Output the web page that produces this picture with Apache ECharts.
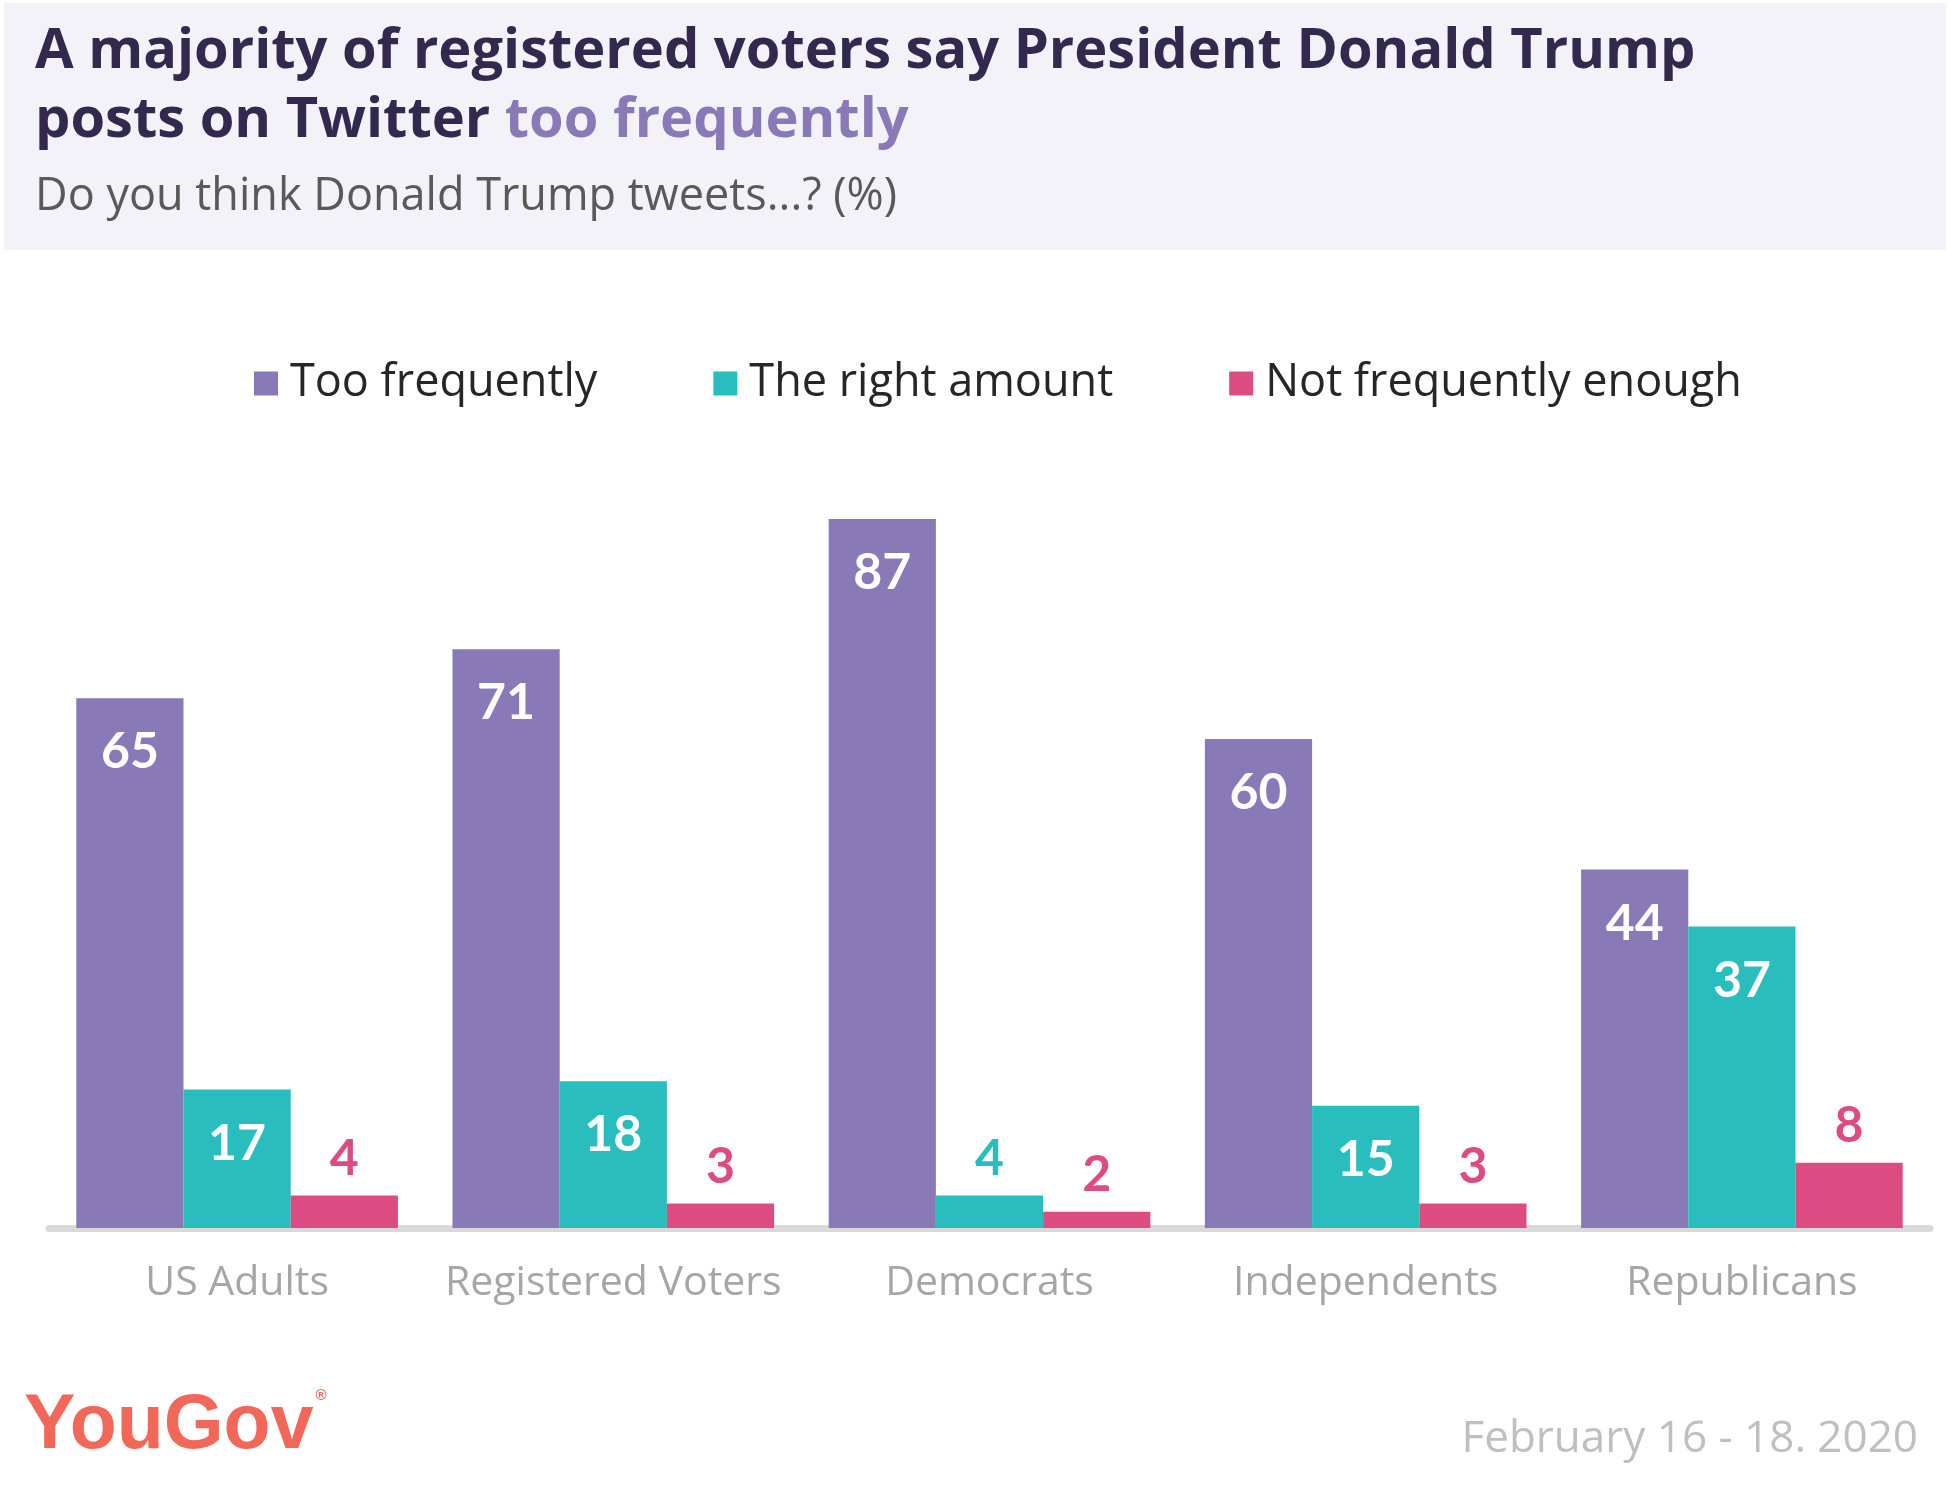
<!DOCTYPE html>
<html lang="en">
<head>
    <meta charset="UTF-8">
    <title>Trump tweets</title>
    <script src="https://cdn.jsdelivr.net/npm/echarts@6/dist/echarts.min.js"></script>
    <style>
        html, body { margin: 0; padding: 0; background: #ffffff; }
        #main { width: 1950px; height: 1485px; }
    </style>
</head>
<body>
<div id="main"></div>

<script type="text/javascript">
    // data
    var groups = ['US Adults', 'Registered Voters', 'Democrats', 'Independents', 'Republicans'];
    var seriesNames = ['Too frequently', 'The right amount', 'Not frequently enough'];
    var tooFrequently = [65, 71, 87, 60, 44];
    var rightAmount = [17, 18, 4, 15, 37];
    var notEnough = [4, 3, 2, 3, 8];

    var colors = ['#8979b6', '#29bebd', '#dc4c82'];
    var font = '"Open Sans", Lato, sans-serif';
    var numFont = 'Lato, "Open Sans", sans-serif';

    // big values sit inside the bar in white, small ones above it in the bar colour
    function barData(values, color) {
        return values.map(function (v) {
            if (v >= 10) return { value: v };
            return {
                value: v,
                label: { position: 'top', distance: 12, color: color }
            };
        });
    }

    function makeSeries(name, values, i) {
        return {
            name: name,
            type: 'bar',
            barGap: 0,
            barCategoryGap: '14.5%',
            itemStyle: { color: colors[i] },
            label: {
                show: true,
                position: 'insideTop',
                distance: 29,
                color: '#ffffff',
                fontFamily: numFont,
                fontWeight: 'bold',
                fontSize: 50
            },
            data: barData(values, colors[i])
        };
    }

    var myChart = echarts.init(document.getElementById('main'));

    myChart.setOption({
        backgroundColor: '#ffffff',
        animation: false,
        graphic: [{
            type: 'rect',
            z: -10,
            shape: { x: 4, y: 3, width: 1942, height: 247 },
            style: { fill: '#f3f2f8' }
        }],
        title: [{
            left: 35,
            top: 18,
            padding: 0,
            text: '{a|A majority of registered voters say President Donald Trump}\n{a|posts on Twitter }{b|too frequently}',
            textStyle: {
                rich: {
                    a: { fontFamily: font, fontWeight: 'bold', fontSize: 56, lineHeight: 69, color: '#33294f' },
                    b: { fontFamily: font, fontWeight: 'bold', fontSize: 56, lineHeight: 69, color: '#8979b6' }
                }
            }
        }, {
            left: 35,
            top: 175,
            padding: 0,
            text: 'Do you think Donald Trump tweets...? (%)',
            textStyle: { fontFamily: font, fontWeight: 'normal', fontSize: 45, lineHeight: 45, color: '#595959' }
        }, {
            left: 24,
            top: 1388,
            padding: 0,
            text: '{y|YouGov}{r|®}',
            textStyle: {
                rich: {
                    y: { fontFamily: '"Liberation Sans", Arial, sans-serif', fontWeight: 'bold', fontSize: 77, lineHeight: 77, color: '#f26858' },
                    r: { fontFamily: '"Liberation Sans", Arial, sans-serif', fontSize: 15, color: '#f26858', verticalAlign: 'top', padding: [0, 0, 38, 2] }
                }
            }
        }, {
            right: 32,
            top: 1417,
            padding: 0,
            text: 'February 16 - 18. 2020',
            textStyle: { fontFamily: font, fontWeight: 'normal', fontSize: 44, lineHeight: 44, color: '#bfbfbf' }
        }],
        legend: {
            left: 254,
            top: 361,
            padding: 0,
            icon: 'rect',
            itemWidth: 24,
            itemHeight: 24,
            itemGap: 116,
            textStyle: {
                fontFamily: font,
                fontSize: 45,
                color: '#262626',
                padding: [0, 0, 0, 7]
            },
            data: [
                { name: seriesNames[0], textStyle: { width: 301 } },
                { name: seriesNames[1], textStyle: { width: 356 } },
                { name: seriesNames[2], textStyle: { width: 473 } }
            ]
        },
        grid: {
            left: 49,
            right: 20,
            top: 413,
            bottom: 257,
            containLabel: false
        },
        xAxis: {
            type: 'category',
            data: groups,
            offset: 4,
            axisLine: { show: true, lineStyle: { color: '#d9d9d9', width: 7 } },
            axisTick: { show: false },
            axisLabel: {
                interval: 0,
                margin: 31,
                fontFamily: font,
                fontSize: 41,
                color: '#a6a6a6'
            }
        },
        yAxis: {
            type: 'value',
            min: 0,
            max: 100,
            show: false,
            splitLine: { show: false }
        },
        series: [
            makeSeries(seriesNames[0], tooFrequently, 0),
            makeSeries(seriesNames[1], rightAmount, 1),
            makeSeries(seriesNames[2], notEnough, 2)
        ]
    });
</script>
</body>
</html>
